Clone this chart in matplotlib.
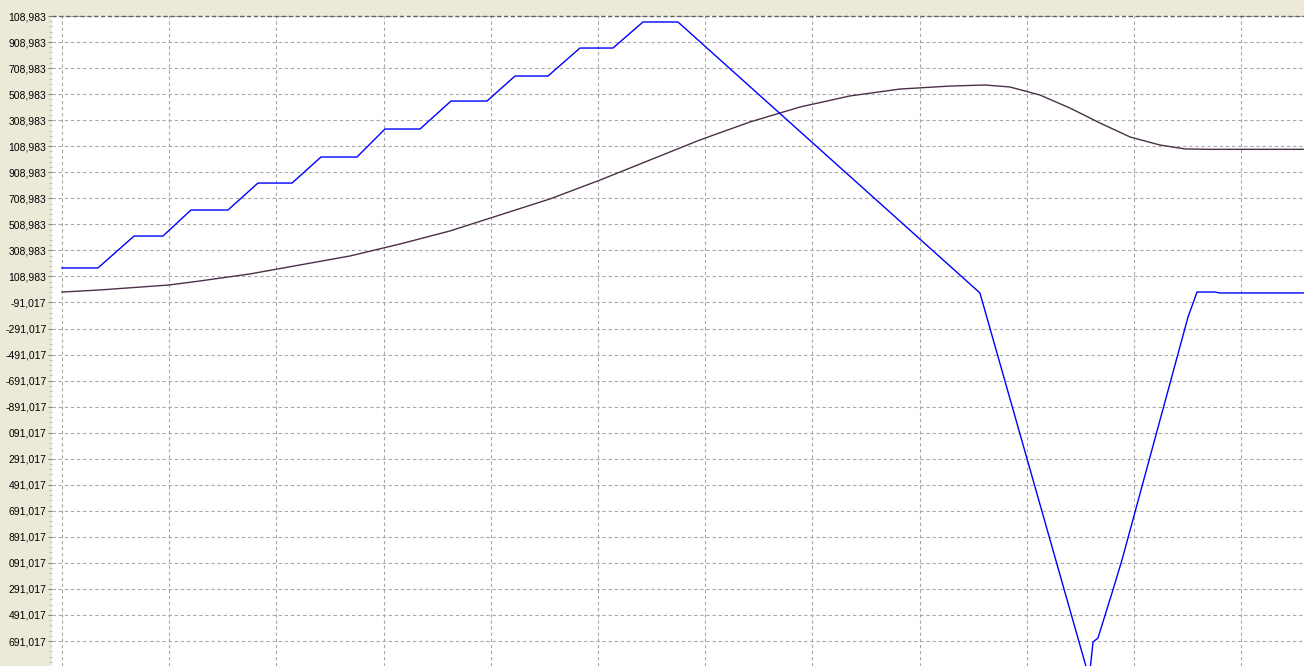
import numpy as np
import matplotlib
matplotlib.use('Agg')
import matplotlib.pyplot as plt

# blue trace (time, value)
blue_t = [0, 3.36, 6.72, 9.42, 12.03, 15.49, 18.28, 21.46, 24.16, 27.52, 30.13, 33.40,
          36.29, 39.65, 42.26, 45.34, 48.32, 51.40, 54.20, 57.46, 85.63, 95.62, 95.90,
          96.18, 96.64, 97.95, 98.88, 105.04, 105.88, 107.56, 108.02, 115.86]
blue_v = [174, 174, 419, 419, 619, 619, 826, 826, 1026, 1026, 1241, 1241,
          1456, 1456, 1648, 1648, 1863, 1863, 2063, 2063, -18, -2914, -2914,
          -2699, -2668, -2322, -2069, -203, -11, -11, -18, -18]

# dark trace (time, value)
dark_t = [0, 3.54, 9.98, 12.87, 17.54, 22.20, 26.87, 31.53, 36.19, 40.86, 45.52, 50.19,
          54.85, 59.51, 64.18, 68.84, 73.51, 78.17, 82.84, 86.10, 88.43, 91.23, 94.03,
          96.83, 99.63, 102.43, 104.76, 107.1, 115.86]
dark_v = [-11, 5, 43, 74, 128, 197, 266, 358, 458, 581, 704, 849,
          1003, 1157, 1295, 1410, 1495, 1548, 1571, 1579, 1564, 1502, 1402,
          1287, 1180, 1118, 1088, 1085, 1085]

# y tick values and labels as shown (truncated on the left in the original)
ytick_vals = [2108.983 - 200 * k for k in range(25)]
ytick_labels = ['108,983', '908,983', '708,983', '508,983', '308,983', '108,983',
                '908,983', '708,983', '508,983', '308,983', '108,983', '-91,017',
                '-291,017', '-491,017', '-691,017', '-891,017', '091,017', '291,017',
                '491,017', '691,017', '891,017', '091,017', '291,017', '491,017', '691,017']
xgrid = list(range(0, 111, 10))

W, H = 1304, 666
fig = plt.figure(figsize=(W / 100, H / 100), dpi=100, facecolor='#ECE9D8')
ax = fig.add_axes([52 / W, 0, (W - 52) / W, (H - 16) / H])
ax.set_facecolor('white')

ax.plot(dark_t, dark_v, color='#4b3048', lw=1.0)
ax.plot(blue_t, blue_v, color='#0000ff', lw=1.0)

ax.set_xlim(-0.93, 115.86)
ax.set_ylim(-2883, 2108.983)

ax.set_xticks(xgrid)
ax.set_xticklabels([])
ax.tick_params(axis='x', length=0)

ax.set_yticks(ytick_vals)
ax.set_yticklabels(ytick_labels, fontsize=7.5, family='Liberation Sans')
ax.set_yticks([v - 40 * m for v in ytick_vals for m in range(1, 5)], minor=True)
ax.tick_params(axis='y', which='major', length=3, pad=1, color='#808080')
ax.tick_params(axis='y', which='minor', length=2, color='#b8b8b8')

ax.grid(True, which='major', color='#a8a8a8', linestyle=(0, (3, 2.5)), lw=0.8)
ax.set_axisbelow(True)
for s in ax.spines.values():
    s.set_visible(False)
ax.axhline(2108.983, color='#606060', linestyle=(0, (3, 2)), lw=1, clip_on=False)

fig.savefig('out.png', dpi=100, facecolor=fig.get_facecolor())
